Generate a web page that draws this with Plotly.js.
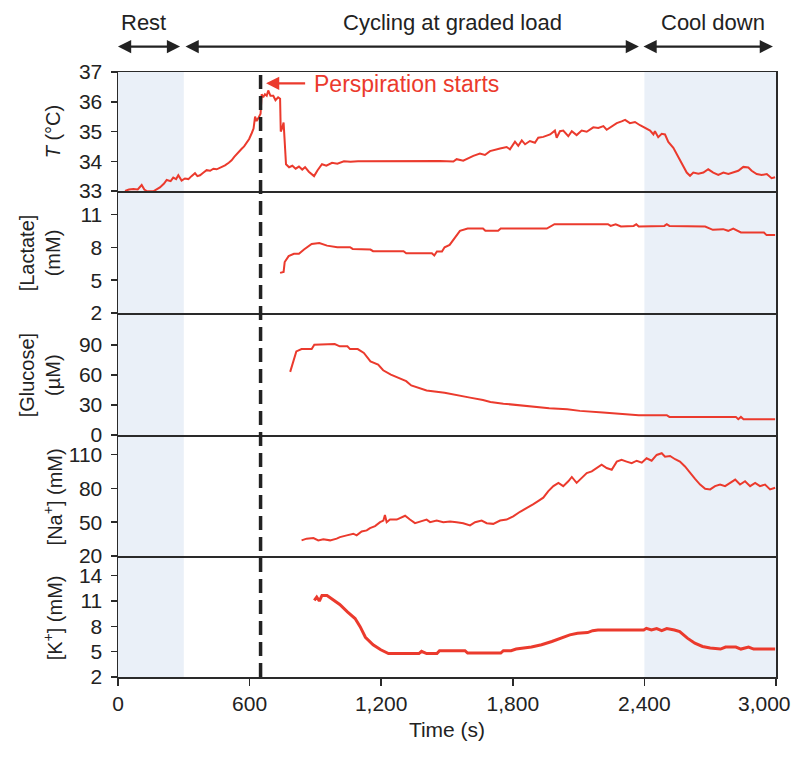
<!DOCTYPE html>
<html>
<head>
<meta charset="utf-8">
<script src="https://cdn.plot.ly/plotly-3.0.1.min.js"></script>
<style>html,body{margin:0;padding:0;background:#fff}#chart{width:801px;height:757px}</style>
</head>
<body>
<div id="chart"></div>
<script>
// ---- Data ----
const tempTime = [32,50,70,90,108,120,131,161,191,210,222,240,252,265,275,290,305,321,335,351,362,374,390,404,420,435,450,470,488,505,518,530,541,553,564,575,587,598,610,618,625,632,640,650,655,662,670,678,685,695,708,718,730,739,742,748,755,760,766,780,795,810,825,840,853,870,885,894,910,930,950,976,1000,1030,1060,1094,1468,1529,1544,1574,1620,1650,1673,1696,1742,1772,1787,1810,1825,1841,1856,1878,1901,1916,1939,1970,1992,2000,2015,2030,2053,2069,2091,2114,2137,2167,2190,2213,2228,2243,2274,2296,2312,2334,2357,2380,2403,2426,2441,2448,2463,2479,2494,2509,2532,2555,2577,2593,2608,2623,2646,2669,2691,2714,2737,2760,2783,2805,2828,2851,2874,2889,2912,2935,2958,2980,2996];
const tempVal = [33.0,33.05,33.07,33.05,33.2,33.05,33.0,32.99,33.12,33.25,33.37,33.33,33.45,33.4,33.53,33.35,33.42,33.4,33.5,33.6,33.5,33.53,33.62,33.7,33.68,33.75,33.73,33.8,33.86,33.95,34.03,34.15,34.25,34.32,34.42,34.5,34.65,34.75,34.95,35.1,35.5,35.35,35.45,35.6,36.25,36.15,36.25,36.2,36.38,36.2,36.2,36.05,36.15,36.1,35.0,35.1,35.3,34.6,33.9,33.8,33.85,33.75,33.82,33.72,33.8,33.65,33.55,33.5,33.7,33.9,33.85,33.95,33.92,34.0,33.98,34.0,34.01,33.99,34.07,34.02,34.18,34.26,34.21,34.34,34.43,34.48,34.4,34.66,34.52,34.7,34.57,34.68,34.62,34.79,34.82,34.9,35.03,34.79,35.01,35.03,34.84,35.01,34.88,35.03,34.99,35.14,35.12,35.18,35.06,35.14,35.28,35.34,35.39,35.28,35.32,35.21,35.12,35.03,34.9,35.01,34.81,34.92,34.9,34.65,34.45,34.12,33.84,33.62,33.51,33.62,33.58,33.62,33.73,33.62,33.54,33.62,33.57,33.62,33.68,33.81,33.79,33.68,33.57,33.54,33.57,33.43,33.46];

const lactTime = [739,755,760,778,802,825,848,883,918,953,1000,1058,1070,1151,1163,1302,1314,1431,1442,1454,1477,1489,1512,1531,1559,1594,1664,1675,1733,1745,1955,1990,2234,2246,2269,2293,2351,2363,2374,2491,2502,2514,2677,2712,2759,2782,2805,2840,2945,2957,2996];
const lactVal = [5.66,5.75,6.65,7.19,7.4,7.4,7.79,8.3,8.39,8.15,8.0,8.0,7.85,7.79,7.64,7.64,7.46,7.46,7.25,7.61,7.61,8.0,8.21,8.75,9.5,9.71,9.71,9.5,9.5,9.71,9.71,10.1,10.1,9.95,10.1,9.89,9.95,10.1,9.89,9.95,10.1,9.95,9.89,9.59,9.65,9.5,9.71,9.35,9.35,9.11,9.11];

const glucTime = [785,795,813,837,883,895,988,1011,1046,1058,1093,1121,1151,1186,1209,1244,1279,1314,1337,1372,1407,1489,1559,1605,1664,1698,1757,1827,1908,1966,2048,2106,2211,2293,2374,2502,2514,2817,2828,2840,2852,2996];
const glucVal = [63,70.2,83.4,85.7,85.7,90,90.7,88.4,88.4,85.7,85.7,81.8,73.5,70.2,64.6,60.3,57.0,53.7,49.5,47.1,44.5,42.2,39.6,37.3,34.9,33.0,31.3,29.7,27.4,26.7,25.7,24.1,22.4,20.8,19.8,19.8,18.1,18.1,15.8,18.1,15.8,15.8];

const naTime = [837,860,891,913,936,967,997,1012,1043,1073,1088,1111,1134,1149,1172,1195,1210,1217,1225,1240,1271,1309,1331,1354,1377,1407,1423,1453,1483,1514,1544,1574,1605,1628,1658,1681,1711,1742,1772,1802,1833,1863,1894,1917,1939,1962,1985,2008,2030,2053,2069,2091,2114,2137,2160,2182,2205,2228,2251,2274,2296,2319,2342,2365,2388,2410,2433,2456,2479,2494,2517,2540,2562,2585,2608,2631,2654,2677,2700,2722,2745,2768,2791,2814,2836,2859,2882,2905,2927,2950,2973,2996];
const naVal = [33.9,35.4,36.0,33.9,34.8,33.9,35.4,36.8,38.3,39.8,38.3,41.8,42.7,44.7,46.5,50,51.4,56.3,50,52.3,52.3,55.7,52.3,49.1,50.5,52.3,50,51.4,50,50.5,50,49.1,47.1,50,51.4,49.1,48.5,51.4,52.3,55.1,59.2,62.2,65.9,68.8,71.7,77.5,81.9,84.8,81.9,86.2,90.0,84.8,89.2,93.5,94.9,97.9,100.8,97.9,96.4,103.6,105.1,103.6,102.2,104.4,102.7,106.6,104.4,109.5,111,108,108.6,105.7,103.6,99.3,93.5,88.3,83.3,79.6,79,81.9,83.3,81.9,84.8,87.7,83.3,86.2,81.9,84.8,81.9,83.3,79,80.4];

const kTime = [895,906,918,930,953,976,1011,1046,1081,1104,1128,1163,1198,1233,1326,1372,1384,1407,1454,1466,1582,1594,1745,1757,1792,1815,1885,1931,1978,2025,2060,2095,2141,2164,2188,2397,2409,2432,2456,2479,2502,2537,2561,2596,2630,2665,2700,2747,2770,2817,2840,2875,2898,2996];
const kVal = [11.08,11.47,11.0,11.66,11.66,11.27,10.6,9.71,8.93,7.96,6.71,5.82,5.23,4.77,4.77,4.77,5.04,4.77,4.77,5.12,5.12,4.84,4.84,5.12,5.12,5.31,5.55,5.82,6.21,6.71,6.99,7.18,7.26,7.49,7.57,7.57,7.77,7.57,7.73,7.49,7.73,7.57,7.38,6.6,6.01,5.62,5.43,5.31,5.55,5.55,5.31,5.55,5.31,5.31];

const xTickVals = [0,600,1200,1800,2400,3000];
const xTickText = ['0','600','1,200','1,800','2,400','3,000'];
const phaseLabels = ['Rest','Cycling at graded load','Cool down'];
const phaseLabelX = [114,1523,2713];
const phaseStart = [-7,301,2389];
const phaseEnd = [283,2375,2986];
const restSpan = [0,300];
const coolSpan = [2400,3000];
const perspirationTime = 650;

// ---- Styling ----
const RED = '#eb3a2d';
const AX = '#2a2a2a';
const FONT = 'Liberation Sans, Arial, Helvetica, sans-serif';
const TICKFONT = {family:FONT, size:21, color:'#222'};

const traces = [
  {x: kTime, y: kVal, xaxis:'x', yaxis:'y', mode:'lines', line:{color:RED, width:3}},
  {x: naTime, y: naVal, xaxis:'x2', yaxis:'y2', mode:'lines', line:{color:RED, width:2}},
  {x: glucTime, y: glucVal, xaxis:'x3', yaxis:'y3', mode:'lines', line:{color:RED, width:2}},
  {x: lactTime, y: lactVal, xaxis:'x4', yaxis:'y4', mode:'lines', line:{color:RED, width:2}},
  {x: tempTime, y: tempVal, xaxis:'x5', yaxis:'y5', mode:'lines', line:{color:RED, width:2}}
];

// the last tick label sits at the page edge; it is drawn as an annotation shifted inward (as in the reference)
const lastIdx = xTickVals.length - 1;
const shownTickText = xTickText.map((t, i) => i === lastIdx ? '' : t);

function xa(anchor, bottom) {
  return {
    anchor: anchor, range:[0,3000], showline:true, mirror:true, linecolor:AX, linewidth:1.5,
    showgrid:false, zeroline:false, fixedrange:true,
    ticks: bottom ? 'outside' : '', ticklen:7, tickwidth:1.5, tickcolor:AX,
    showticklabels: !!bottom, tickvals: xTickVals, ticktext: shownTickText,
    tickfont: TICKFONT,
    title: bottom ? {text:'Time (s)', font:{family:FONT, size:21, color:'#222'}, standoff:8} : {text:''}
  };
}
function ya(domain, range, tickvals, anchor) {
  return {
    domain: domain, range: range, anchor: anchor, tickvals: tickvals,
    showline:true, mirror:true, linecolor:AX, linewidth:1.5, showgrid:false, zeroline:false,
    ticks:'outside', ticklen:6, tickwidth:1.5, tickcolor:AX, ticklabelstandoff:4,
    tickfont: TICKFONT, fixedrange:true
  };
}

const shapes = [
  {type:'rect', xref:'x', yref:'paper', x0:restSpan[0], x1:restSpan[1], y0:0, y1:1, fillcolor:'#eaf0f8', line:{width:0}, layer:'below'},
  {type:'rect', xref:'x', yref:'paper', x0:coolSpan[0], x1:coolSpan[1], y0:0, y1:1, fillcolor:'#eaf0f8', line:{width:0}, layer:'below'},
  {type:'line', xref:'x', yref:'paper', x0:perspirationTime, x1:perspirationTime, y0:0, y1:1, line:{color:'#222', width:3.5, dash:'14px,7px'}}
];

const annotations = [];
for (let i = 0; i < phaseLabels.length; i++) {
  annotations.push({xref:'x', yref:'paper', x:phaseLabelX[i], y:1.082, text:phaseLabels[i], showarrow:false,
    font:{family:FONT, size:22, color:'#222'}, xanchor:'center', yanchor:'middle'});
  annotations.push({xref:'x', yref:'paper', x:phaseEnd[i], y:1.042, axref:'x', ax:phaseStart[i], ayref:'pixel', ay:0,
    text:'', showarrow:true, arrowside:'end+start', arrowhead:2, arrowsize:1.2, arrowwidth:2.2, arrowcolor:'#222'});
}
annotations.push({xref:'x5', yref:'y5', x:675, y:36.62, axref:'x5', ax:860, ayref:'y5', ay:36.62, text:'', showarrow:true,
  arrowhead:2, arrowsize:1.2, arrowwidth:2.2, arrowcolor:RED});
annotations.push({xref:'x5', yref:'y5', x:886, y:36.6, text:'Perspiration starts', showarrow:false, xanchor:'left', yanchor:'middle',
  font:{family:FONT, size:23, color:RED}});
annotations.push({xref:'x', yref:'paper', x:xTickVals[lastIdx], y:0, text:xTickText[lastIdx], showarrow:false,
  xanchor:'center', yanchor:'middle', xshift:-12, yshift:-26, font:TICKFONT});

// y-axis titles
const titleFont = {family:FONT, size:20, color:'#222'};
const yTitles = [
  {ref:'y5 domain', text:'<i>T</i> (°C)', x:-0.099},
  {ref:'y4 domain', text:'[Lactate]<br>(mM)', x:-0.118},
  {ref:'y3 domain', text:'[Glucose]<br>(µM)', x:-0.118},
  {ref:'y2 domain', text:'[Na<sup>+</sup>] (mM)', x:-0.099},
  {ref:'y domain', text:'[K<sup>+</sup>] (mM)', x:-0.099}
];
yTitles.forEach(t => annotations.push({xref:'paper', yref:t.ref, x:t.x, y:0.5, text:t.text, textangle:-90,
  showarrow:false, xanchor:'center', yanchor:'middle', font:titleFont}));

const layout = {
  width:801, height:757, paper_bgcolor:'#fff', plot_bgcolor:'rgba(0,0,0,0)',
  margin:{l:118, r:25, t:72, b:80}, showlegend:false,
  font:{family:FONT, color:'#222'},
  xaxis: xa('y', true), xaxis2: xa('y2'), xaxis3: xa('y3'), xaxis4: xa('y4'), xaxis5: xa('y5'),
  yaxis: ya([0,0.1967],[2,16.1],[2,5,8,11,14],'x'),
  yaxis2: ya([0.1999,0.3967],[20,125.4],[20,50,80,110],'x2'),
  yaxis3: ya([0.3999,0.5984],[0,119.7],[0,30,60,90],'x3'),
  yaxis4: ya([0.6016,0.8],[2,12.95],[2,5,8,11],'x4'),
  yaxis5: ya([0.8033,1],[33,37],[33,34,35,36,37],'x5'),
  shapes: shapes, annotations: annotations
};

Plotly.newPlot('chart', traces, layout, {displayModeBar:false, staticPlot:true});
</script>
</body>
</html>
